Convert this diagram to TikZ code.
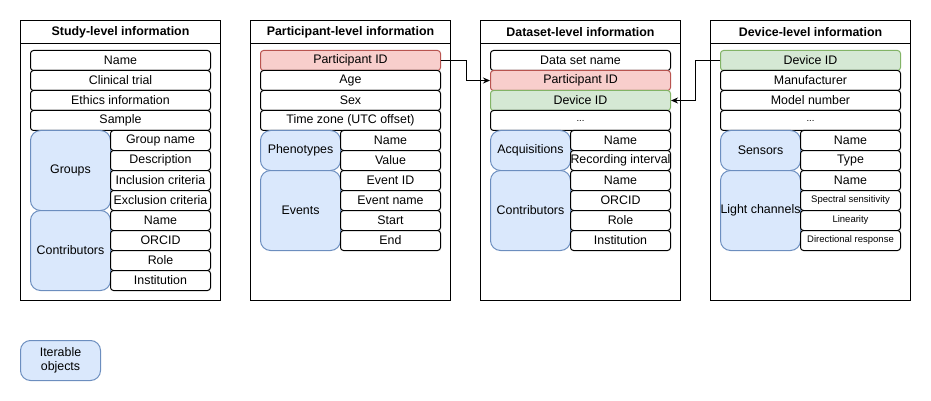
\documentclass[tikz,border=0pt]{standalone}
\usepackage{fontspec}
\setmainfont{Liberation Sans}
\usetikzlibrary{arrows.meta}

\definecolor{keyred}{HTML}{F8CECC}
\definecolor{keyredline}{HTML}{B85450}
\definecolor{keygreen}{HTML}{D5E8D4}
\definecolor{keygreenline}{HTML}{82B366}
\definecolor{iterfill}{HTML}{DAE8FC}
\definecolor{iterline}{HTML}{6C8EBF}

\begin{document}
\begin{tikzpicture}[
    x=1pt, y=-1pt,
    font=\fontsize{12.4}{14}\selectfont,
    panel/.style={draw, line width=1pt, minimum width=200pt, minimum height=280pt, anchor=north west, inner sep=0pt},
    head/.style={draw, line width=1pt, minimum width=200pt, minimum height=23pt, anchor=north west, inner sep=0pt, font=\fontsize{12.4}{14}\selectfont\bfseries},
    field/.style={draw, line width=1pt, fill=white, rounded corners=3pt, minimum width=180pt, minimum height=20pt, inner sep=0pt, anchor=north west},
    sub/.style={field, minimum width=100pt},
    small/.style={font=\fontsize{9.5}{11}\selectfont},
    iter/.style={draw=iterline, line width=1pt, fill=iterfill, rounded corners=10pt, minimum width=80pt, inner sep=0pt, anchor=north west, align=center},
    link/.style={line width=1pt, -{Stealth[length=7pt,width=6pt]}}
]
\useasboundingbox (0,0) rectangle (931,401);

% Study-level information
\node[panel] (study) at (20,20) {};
\node[head] (studyhead) at (20,20) {Study-level information};
\foreach \t [count=\i] in {Name, Clinical trial, Ethics information, Sample}
    \node[field] (s\i) at (30,30+20*\i) {\t};
\node[iter, minimum height=80pt] (groups) at (30,130) {Groups};
\foreach \t [count=\i] in {Group name, Description, Inclusion criteria, Exclusion criteria}
    \node[sub] (g\i) at (110,110+20*\i) {\t};
\node[iter, minimum height=80pt] (scontrib) at (30,210) {Contributors};
\foreach \t [count=\i] in {Name, ORCID, Role, Institution}
    \node[sub] (sc\i) at (110,190+20*\i) {\t};

% Participant-level information
\node[panel] (participant) at (250,20) {};
\node[head] (participanthead) at (250,20) {Participant-level information};
\node[field, fill=keyred, draw=keyredline] (p1) at (260,50) {Participant ID};
\foreach \t [count=\i from 2] in {Age, Sex, Time zone (UTC offset)}
    \node[field] (p\i) at (260,30+20*\i) {\t};
\node[iter, minimum height=40pt] (pheno) at (260,130) {Phenotypes};
\foreach \t [count=\i] in {Name, Value}
    \node[sub] (ph\i) at (340,110+20*\i) {\t};
\node[iter, minimum height=80pt] (events) at (260,170) {Events};
\foreach \t [count=\i] in {Event ID, Event name, Start, End}
    \node[sub] (ev\i) at (340,150+20*\i) {\t};

% Dataset-level information
\node[panel] (dataset) at (480,20) {};
\node[head] (datasethead) at (480,20) {Dataset-level information};
\node[field] (d1) at (490,50) {Data set name};
\node[field, fill=keyred, draw=keyredline] (d2) at (490,70) {Participant ID};
\node[field, fill=keygreen, draw=keygreenline] (d3) at (490,90) {Device ID};
\node[field, small] (d4) at (490,110) {...};
\node[iter, minimum height=40pt] (acq) at (490,130) {Acquisitions};
\foreach \t [count=\i] in {Name, Recording interval}
    \node[sub] (aq\i) at (570,110+20*\i) {\t};
\node[iter, minimum height=80pt] (dcontrib) at (490,170) {Contributors};
\foreach \t [count=\i] in {Name, ORCID, Role, Institution}
    \node[sub] (dc\i) at (570,150+20*\i) {\t};

% Device-level information
\node[panel] (device) at (710,20) {};
\node[head] (devicehead) at (710,20) {Device-level information};
\node[field, fill=keygreen, draw=keygreenline] (v1) at (720,50) {Device ID};
\node[field] (v2) at (720,70) {Manufacturer};
\node[field] (v3) at (720,90) {Model number};
\node[field, small] (v4) at (720,110) {...};
\node[iter, minimum height=40pt] (sensors) at (720,130) {Sensors};
\foreach \t [count=\i] in {Name, Type}
    \node[sub] (sn\i) at (800,110+20*\i) {\t};
\node[iter, minimum height=80pt] (channels) at (720,170) {Light channels};
\node[sub] (lc1) at (800,170) {Name};
\foreach \t [count=\i from 2] in {Spectral sensitivity, Linearity, Directional response}
    \node[sub, small] (lc\i) at (800,150+20*\i) {\t};

% Links between levels
\draw[link] (p1.east) -- ++(25,0) |- (d2.west);
\draw[link] (v1.west) -- ++(-25,0) |- (d3.east);

% Legend
\node[iter, minimum height=40pt] (legend) at (20,340) {Iterable\\objects};

\end{tikzpicture}
\end{document}
